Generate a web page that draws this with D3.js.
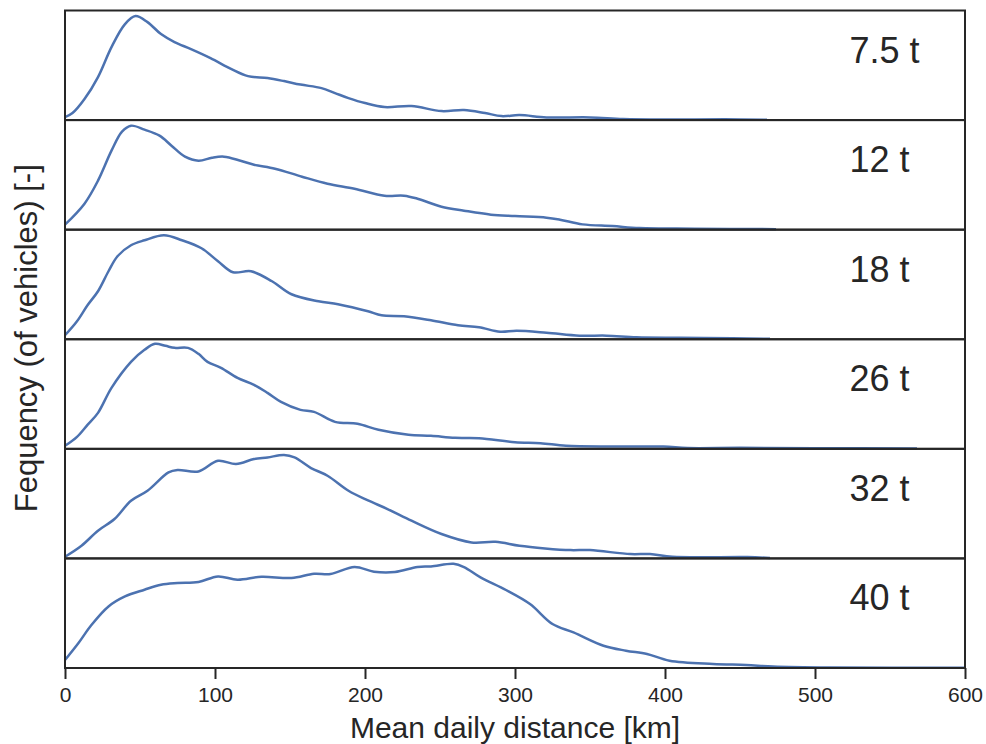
<!DOCTYPE html>
<html>
<head>
<meta charset="utf-8">
<script src="https://cdn.jsdelivr.net/npm/d3@7"></script>
<style>
  body { margin: 0; background: #fff; }
  text { font-family: "Liberation Sans", Arial, sans-serif; fill: #262626; }
</style>
</head>
<body>
<div id="chart"></div>
<script>
// vehicle classes, top to bottom
var classes = ["7.5 t", "12 t", "18 t", "26 t", "32 t", "40 t"];
var xTicks = [0, 100, 200, 300, 400, 500, 600];

// [mean daily distance km, relative frequency]
var d7_5 = [[0,3],[5,7],[13,21],[22,43],[31,73],[40,96],[47,104],[55,98],[64,86],[73,78],[84,71],[97,62],[111,51],[122,44],[135,42],[146,39],[157,35.5],[171,32],[180,27],[189,22],[200,17],[213,13],[231,14],[251,9],[266,10],[280,7],[291,4],[303,5],[321,2.7],[350,2.7],[372,1],[400,0.5],[440,0.8],[468,0.3]];
var d12 = [[0,5],[13,26],[22,49],[31,79],[38,98],[44,104],[53,100],[63,94],[71,84],[80,73],[89,69],[98,72],[106,73],[117,69],[126,65],[140,61],[158,53],[175,46],[193,41],[213,34],[226,34],[235,31],[251,23],[266,19],[284,15],[300,13.6],[321,12],[330,10],[345,5.3],[365,3.6],[383,1.6],[420,1],[474,0.5]];
var d18 = [[0,4],[8,18],[15,34],[22,48],[29,68],[35,83],[44,94],[53,99],[66,104],[78,99],[91,91],[102,78],[112,67],[124,68],[138,58],[151,45],[169,38],[182,35],[202,28],[211,24],[226,23],[244,19],[262,14],[276,12],[290,7.5],[301,8.5],[321,6.6],[343,3.6],[361,3.6],[381,2],[410,1.5],[445,1],[470,0.5]];
var d26 = [[0,3],[8,12],[15,24],[22,36],[31,61],[44,87],[53,99],[60,105],[67,103],[73,101],[82,101],[89,95],[95,87],[104,81],[115,71],[126,64],[135,56],[144,47],[157,39],[166,37],[180,27],[195,25],[209,19],[229,14],[244,13],[260,11],[276,10.7],[300,6.7],[317,5.7],[334,3],[365,2.3],[399,2.3],[415,0.8],[450,1],[500,0.6],[568,0.4]];
var d32 = [[0,1.7],[11,12.7],[22,27.7],[33,39.4],[44,57.7],[55,67.7],[69,86],[75,88.4],[89,87],[102,97.7],[114,94.4],[126,99.4],[135,101],[146,103.4],[153,101],[164,90.4],[175,82.7],[189,67.7],[202,58],[215,49.4],[231,37.7],[251,24.4],[271,16],[287,16.6],[303,12.6],[320,10],[337,8.3],[350,8.3],[377,4.3],[390,4.3],[405,1.6],[455,1.3],[470,0.5]];
var d40 = [[0,8],[9,25],[17.6,43],[29,61.6],[40,71.6],[53,78.3],[64,83.3],[75,85],[89,86],[102,91.6],[115,88.3],[131,91.3],[151,90],[166,94.3],[177,94],[193,101],[206,96.3],[220,96],[235,101],[244,101.6],[259,104.3],[266,101],[277,90.6],[294,78],[310,64],[325,44],[339,35.6],[359,22.3],[374,17.3],[388,14],[403,7.3],[432,4],[454,3],[472,1.6],[510,0.6],[600,0.2]];

var series = [d7_5, d12, d18, d26, d32, d40];

var margin = {top: 10.5, right: 21, bottom: 76, left: 65};
var w = 986 - margin.left - margin.right;
var h = 744 - margin.top - margin.bottom;
var ph = h / classes.length;

var svg = d3.select("#chart")
  .append("svg")
    .attr("width", 986)
    .attr("height", 744)
  .append("g")
    .attr("transform", "translate(" + margin.left + "," + margin.top + ")");

var x = d3.scaleLinear().domain([0, 600]).range([0, w]);
var y = d3.scaleLinear().domain([0, 109.6]).range([ph, 0]);

var line = d3.line()
  .x(function(d) { return x(d[0]); })
  .y(function(d) { return y(d[1]); })
  .curve(d3.curveCatmullRom.alpha(0.5));

classes.forEach(function(c, i) {
  var g = svg.append("g")
    .attr("transform", "translate(0," + (i * ph) + ")");

  g.append("path")
    .datum(series[i])
    .attr("d", line)
    .attr("fill", "none")
    .attr("stroke", "#4c72b0")
    .attr("stroke-width", 2.5);

  g.append("rect")
    .attr("width", w)
    .attr("height", ph)
    .attr("fill", "none")
    .attr("stroke", "#262626")
    .attr("stroke-width", 2);

  g.append("text")
    .attr("x", x(523))
    .attr("y", 52)
    .attr("font-size", 36)
    .text(c);
});

var xAxis = d3.axisBottom(x)
  .tickValues(xTicks)
  .tickSize(11)
  .tickPadding(8);

var ax = svg.append("g")
  .attr("transform", "translate(0," + h + ")")
  .call(xAxis);
ax.select(".domain").remove();
ax.selectAll("line").attr("stroke", "#262626").attr("stroke-width", 2);
ax.selectAll("text").attr("font-size", 21).attr("fill", "#262626")
  .style("font-family", "'Liberation Sans', Arial, sans-serif");

svg.append("text")
  .attr("x", w / 2)
  .attr("y", h + 70)
  .style("text-anchor", "middle")
  .attr("font-size", 30)
  .text("Mean daily distance [km]");

svg.append("text")
  .attr("transform", "rotate(-90)")
  .attr("x", -(h / 2) + 1)
  .attr("y", -28)
  .style("text-anchor", "middle")
  .attr("font-size", 31)
  .text("Fequency (of vehicles) [-]");
</script>
</body>
</html>
